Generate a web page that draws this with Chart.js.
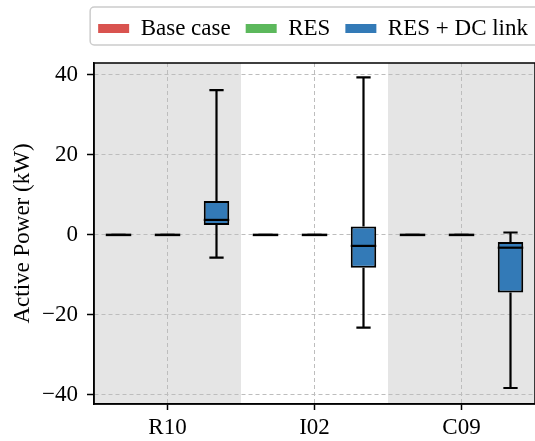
<!DOCTYPE html>
<html>
<head>
<meta charset="utf-8">
<script src="https://cdn.jsdelivr.net/npm/chart.js@4.4.1/dist/chart.umd.min.js"></script>
<style>
  html, body { margin: 0; padding: 0; background: #fff; }
  #wrap { width: 535px; height: 441px; }
</style>
</head>
<body>
<div id="wrap"><canvas id="chart"></canvas></div>
<script>
const categories = ["R10", "I02", "C09"];
const seriesNames = ["Base case", "RES", "RES + DC link"];
const seriesColors = ["#d9534f", "#5cb85c", "#337ab7"];
// five-number summaries per category: [min, q1, median, q3, max]
const baseCase = [[0, 0, 0, 0, 0], [0, 0, 0, 0, 0], [0, 0, 0, 0, 0]];
const resOnly = [[0, 0, 0, 0, 0], [0, 0, 0, 0, 0], [0, 0, 0, 0, 0]];
const resDcLink = [[-5.7, 2.5, 3.75, 8.5, 36.2], [-23.2, -8.2, -2.75, 2.1, 39.4], [-38.3, -14.4, -3.2, -1.75, 0.6]];
const yTicks = [-40, -20, 0, 20, 40];
const shadedCats = [0, 2];

const allStats = [baseCase, resOnly, resDcLink];

Chart.defaults.font.family = "'Liberation Serif', 'DejaVu Serif', serif";
Chart.defaults.color = "#000";

// grey bands behind selected categories
const bandPlugin = {
  id: "bands",
  afterLayout(chart) {
    // push legend a bit to the right like the original
    chart.legend.left += 8;
    chart.legend.right += 8;
  },
  beforeDraw(chart) {
    const { ctx, chartArea, scales } = chart;
    const x = scales.x;
    const step = x.getPixelForValue(1) - x.getPixelForValue(0);
    ctx.save();
    ctx.fillStyle = "#e5e5e5";
    shadedCats.forEach(i => {
      const c = x.getPixelForValue(i);
      const l = Math.max(c - step / 2, chartArea.left);
      const r = Math.min(c + step / 2, chartArea.right);
      ctx.fillRect(l, chartArea.top, r - l, chartArea.bottom - chartArea.top);
    });
    ctx.restore();
  }
};

// whiskers, caps and medians on top of the floating bars
const boxPlugin = {
  id: "boxes",
  afterDatasetsDraw(chart) {
    const { ctx, scales } = chart;
    const y = scales.y;
    ctx.save();
    ctx.strokeStyle = "#000";
    ctx.lineWidth = 2.2;
    allStats.forEach((stats, d) => {
      const meta = chart.getDatasetMeta(d);
      stats.forEach((s, i) => {
        const bar = meta.data[i];
        const cx = bar.x, w = bar.width;
        const [mn, q1, md, q3, mx] = s.map(v => y.getPixelForValue(v));
        ctx.beginPath();
        ctx.moveTo(cx, q1); ctx.lineTo(cx, mn);
        ctx.moveTo(cx, q3); ctx.lineTo(cx, mx);
        ctx.moveTo(cx - w * 0.28, mn); ctx.lineTo(cx + w * 0.28, mn);
        ctx.moveTo(cx - w * 0.28, mx); ctx.lineTo(cx + w * 0.28, mx);
        ctx.stroke();
        ctx.beginPath();
        ctx.lineWidth = q1 === q3 ? 2.5 : 2.2;
        ctx.moveTo(cx - w / 2, md); ctx.lineTo(cx + w / 2, md);
        ctx.stroke();
        ctx.lineWidth = 2.2;
      });
    });
    ctx.restore();
  },
  afterDraw(chart) {
    const { ctx, chartArea } = chart;
    ctx.save();
    // frame
    ctx.strokeStyle = "#000";
    ctx.lineWidth = 1.5;
    ctx.strokeRect(chartArea.left, chartArea.top, chartArea.right - chartArea.left, chartArea.bottom - chartArea.top);
    // legend frame
    const lg = chart.legend;
    const l = lg.right - lg.lineWidths[0] - 8;
    const t = 7;
    const b = 45;
    ctx.strokeStyle = "#cccccc";
    ctx.lineWidth = 1.5;
    ctx.beginPath();
    ctx.roundRect(l, t, chart.width + 10 - l, b - t, 4);
    ctx.stroke();
    ctx.restore();
  }
};

new Chart(document.getElementById("chart"), {
  type: "bar",
  data: {
    labels: categories,
    datasets: seriesNames.map((name, d) => ({
      label: name,
      data: allStats[d].map(s => [s[1], s[3]]),
      backgroundColor: seriesColors[d],
      borderColor: "#000",
      borderWidth: 2,
      borderSkipped: false,
      categoryPercentage: 1,
      barPercentage: 0.52
    }))
  },
  options: {
    responsive: true,
    maintainAspectRatio: false,
    animation: false,
    layout: { padding: { top: 2, right: 0, left: 0, bottom: 0 } },
    plugins: {
      tooltip: { enabled: false },
      legend: {
        position: "top",
        align: "end",
        labels: {
          font: { size: 23 },
          boxWidth: 31,
          boxHeight: 9,
          padding: 15,
          generateLabels: chart => chart.data.datasets.map((ds, i) => ({
            text: ds.label,
            fillStyle: seriesColors[i],
            strokeStyle: seriesColors[i],
            lineWidth: 0,
            datasetIndex: i
          }))
        }
      }
    },
    scales: {
      x: {
        grid: {
          offset: false,
          color: "#bdbdbd",
          lineWidth: 1,
          tickColor: "#000",
          tickBorderDash: [],
          tickWidth: 1.5,
          tickLength: 6
        },
        border: { display: true, color: "#000", width: 1.5, dash: [4, 3] },
        ticks: { font: { size: 23 }, padding: 4 },
        afterFit: s => { s.height = 37; }
      },
      spacer: {
        type: "category",
        axis: "x",
        position: "top",
        grid: { display: false, drawTicks: false },
        border: { display: false },
        ticks: { display: false },
        afterFit: s => { s.height = 13; }
      },
      y: {
        min: -42.3,
        max: 43,
        afterBuildTicks: s => { s.ticks = yTicks.map(v => ({ value: v })); },
        grid: {
          color: "#bdbdbd",
          lineWidth: 1,
          tickColor: "#000",
          tickBorderDash: [],
          tickWidth: 1.5,
          tickLength: 7
        },
        border: { display: true, color: "#000", width: 1.5, dash: [4, 3] },
        ticks: {
          font: { size: 23 },
          padding: 9,
          callback: v => (v < 0 ? "\u2212" + Math.abs(v) : String(v))
        },
        title: { display: true, text: "Active Power (kW)", font: { size: 23 }, padding: { top: 9, bottom: 0 } },
        afterFit: s => { s.width = 94; }
      }
    }
  },
  plugins: [bandPlugin, boxPlugin]
});
</script>
</body>
</html>
